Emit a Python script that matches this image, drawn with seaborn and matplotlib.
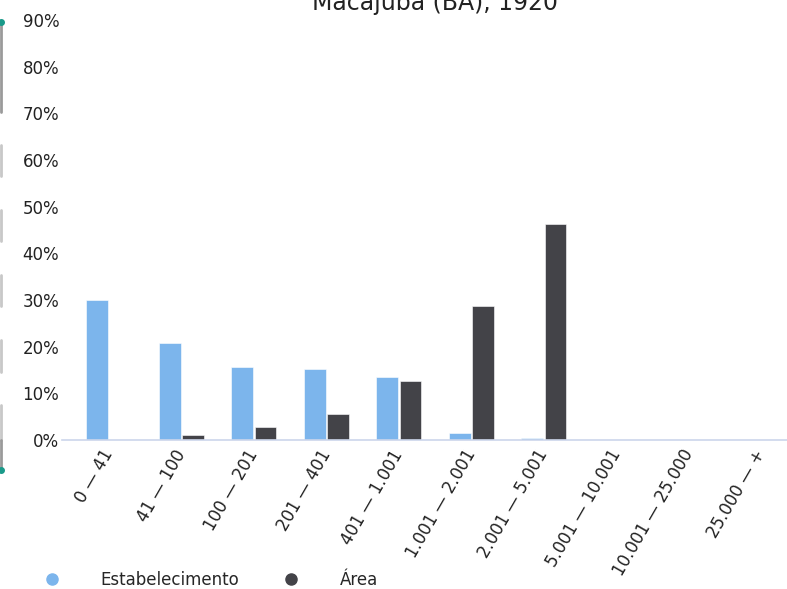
import pandas as pd
import matplotlib
matplotlib.use("Agg")
import matplotlib.pyplot as plt
from matplotlib.lines import Line2D
import seaborn as sns

# dados (percentuais)
faixas = ['0 — 41', '41 — 100', '100 — 201', '201 — 401', '401 — 1.001',
          '1.001 — 2.001', '2.001 — 5.001', '5.001 — 10.001', '10.001 — 25.000', '25.000 — +']
estabelecimento = [30.0, 20.8, 15.6, 15.2, 13.6, 1.6, 0.4, 0.0, 0.0, 0.0]
area = [0.1, 1.1, 2.8, 5.6, 12.6, 28.7, 46.3, 0.0, 0.0, 0.0]
series = ['Estabelecimento', 'Área']
cores = ['#7cb5ec', '#434348']

df = pd.DataFrame({
    'faixa': faixas * 2,
    'valor': estabelecimento + area,
    'serie': [series[0]] * len(faixas) + [series[1]] * len(faixas),
})

sns.set_style('white')
plt.rcParams['font.family'] = ['DejaVu Sans']

fig = plt.figure(figsize=(7.87, 5.89), dpi=100)
ax = fig.add_axes([62 / 787, 1 - 440 / 589, 725 / 787, 420 / 589])

sns.barplot(data=df, x='faixa', y='valor', hue='serie', palette=cores, saturation=1,
            order=faixas, hue_order=series, width=0.64, gap=0.06,
            edgecolor='white', linewidth=0.4, legend=False, ax=ax)

ax.set_xlim(-0.648, 9.352)
ax.set_ylim(0, 90)
ax.set_yticks(range(0, 91, 10))
ax.set_yticklabels([f'{v}%' for v in range(0, 91, 10)], fontsize=12, color='#222222')
ax.set_xticks(range(len(faixas)))
ax.set_xticklabels(faixas, rotation=60, ha='right', va='center',
                   rotation_mode='anchor', fontsize=12, color='#222222')
ax.tick_params(axis='both', length=0)
ax.tick_params(axis='y', pad=2)
ax.tick_params(axis='x', pad=8)
ax.set_xlabel('')
ax.set_ylabel('')
for lado in ['top', 'right', 'left']:
    ax.spines[lado].set_visible(False)
ax.spines['bottom'].set_color('#ccd6eb')
ax.spines['bottom'].set_linewidth(1.2)

# titulo (cortado no topo, como na referencia)
fig.text(435 / 787, 1 - 10 / 589, 'Macajuba (BA), 1920', ha='center',
         va='baseline', fontsize=17, color='#222222')

# legenda
handles = [Line2D([], [], marker='o', linestyle='', color=c, markersize=8) for c in cores]
fig.legend(handles, series, loc='center left', bbox_to_anchor=(44 / 787, 1 - 580 / 589),
           ncol=2, frameon=False, fontsize=12, handlelength=1, handletextpad=2.4,
           columnspacing=2.6, borderaxespad=0, borderpad=0)

# restos de outro elemento na borda esquerda
fig.add_artist(Line2D([1 / 787, 1 / 787], [1 - 22 / 589, 1 - 112 / 589],
                      transform=fig.transFigure, color='#9a9a9a', lw=2))
for y0, y1 in [(145, 176), (210, 241), (275, 306), (340, 372), (405, 440)]:
    fig.add_artist(Line2D([1 / 787, 1 / 787], [1 - y0 / 589, 1 - y1 / 589],
                          transform=fig.transFigure, color='#c8c8c8', lw=2))
fig.add_artist(Line2D([1 / 787, 1 / 787], [1 - 440 / 589, 1 - 468 / 589],
                      transform=fig.transFigure, color='#9a9a9a', lw=2))
for yy in [22, 470]:
    fig.add_artist(Line2D([1 / 787], [1 - yy / 589], transform=fig.transFigure,
                          marker='o', color='#1a9a8a', markersize=4))

fig.savefig('out.png', dpi=100)
